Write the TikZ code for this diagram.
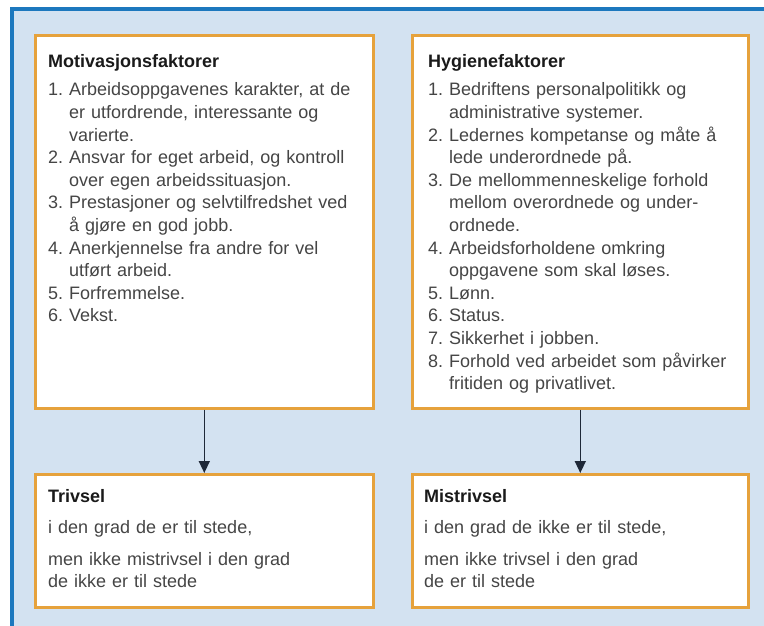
\documentclass[tikz,border=0pt]{standalone}
\usepackage{fontspec}
\setmainfont{Liberation Sans}
\usetikzlibrary{arrows.meta}
\definecolor{panelblue}{HTML}{D3E2F1}
\definecolor{frameblue}{HTML}{1C78BE}
\definecolor{boxorange}{HTML}{E6A23C}
\definecolor{txtgray}{HTML}{454545}
\definecolor{headblack}{HTML}{1A1A1A}
\definecolor{arrowdark}{HTML}{1E2838}
\newlength{\numw}\setlength{\numw}{21pt}
\newcommand{\nr}[1]{\makebox[\numw][l]{#1}}
\newcommand{\ind}{\hspace*{\numw}}
\newcommand{\hd}[1]{{\bfseries\color{headblack}#1}}
\begin{document}
\begin{tikzpicture}[x=1pt,y=-1pt,
  factorbox/.style={draw=boxorange, line width=2.6pt, fill=white, rectangle, inner sep=0pt, anchor=north west},
  boxtext/.style={anchor=base west, inner sep=0pt, align=left, text width=320pt, text=txtgray, font=\fontsize{18}{22.6}\selectfont},
  connector/.style={draw=arrowdark, line width=1.5pt, -{Triangle[length=12pt,width=11pt]}}
]
\useasboundingbox (0,0) rectangle (764,626);
\fill[white] (0,0) rectangle (764,626);
\fill[panelblue] (12,9.5) rectangle (764,626);
\draw[frameblue, line width=4pt] (12,626) -- (12,9.5) -- (764,9.5);

\node[factorbox, minimum width=338pt, minimum height=373pt] (mot) at (34,34) {};
\node[factorbox, minimum width=336pt, minimum height=373pt] (hyg) at (411,34) {};
\node[factorbox, minimum width=338pt, minimum height=133pt] (triv) at (34,473) {};
\node[factorbox, minimum width=336pt, minimum height=133pt] (mistriv) at (411,473) {};

\node[boxtext] (motText) at (48,68) {\hd{Motivasjonsfaktorer}\\[5.4pt]
\nr{1.}Arbeidsoppgavenes karakter, at de\\
\ind er utfordrende, interessante og\\
\ind varierte.\\
\nr{2.}Ansvar for eget arbeid, og kontroll\\
\ind over egen arbeidssituasjon.\\
\nr{3.}Prestasjoner og selvtilfredshet ved\\
\ind å gjøre en god jobb.\\
\nr{4.}Anerkjennelse fra andre for vel\\
\ind utført arbeid.\\
\nr{5.}Forfremmelse.\\
\nr{6.}Vekst.};

\node[boxtext] (hygText) at (428,68) {\hd{Hygienefaktorer}\\[5.4pt]
\nr{1.}Bedriftens personalpolitikk og\\
\ind administrative systemer.\\
\nr{2.}Ledernes kompetanse og måte å\\
\ind lede underordnede på.\\
\nr{3.}De mellommenneskelige forhold\\
\ind mellom overordnede og under-\\
\ind ordnede.\\
\nr{4.}Arbeidsforholdene omkring\\
\ind oppgavene som skal løses.\\
\nr{5.}Lønn.\\
\nr{6.}Status.\\
\nr{7.}Sikkerhet i jobben.\\
\nr{8.}Forhold ved arbeidet som påvirker\\
\ind fritiden og privatlivet.};

\node[boxtext] (trivText) at (48,502) {\hd{Trivsel}\\[8.4pt]
i den grad de er til stede,\\[9.4pt]
men ikke mistrivsel i den grad\\
de ikke er til stede};

\node[boxtext] (mistrivText) at (424,502) {\hd{Mistrivsel}\\[8.4pt]
i den grad de ikke er til stede,\\[9.4pt]
men ikke trivsel i den grad\\
de er til stede};

\draw[connector] (mot.south) -- (triv.north);
\draw[connector] (hyg.south) -- (mistriv.north);
\end{tikzpicture}
\end{document}
